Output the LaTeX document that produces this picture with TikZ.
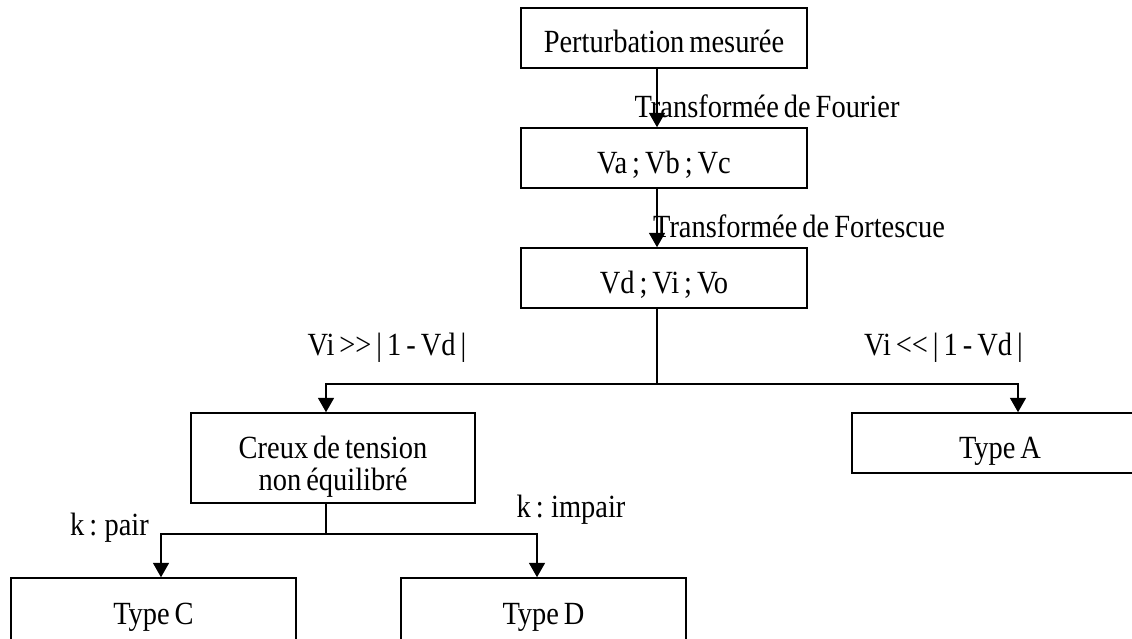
\documentclass[tikz,border=0pt]{standalone}
\usepackage{fontspec}
\setmainfont{Liberation Serif}[FakeStretch=0.88, WordSpace=0.7]
\usepackage{tikz}
\usetikzlibrary{arrows.meta}

\tikzset{
	box/.style = {draw, shape = rectangle, line width = 1.1pt, minimum width = 7.125cm, minimum height = 1.5cm, align = center, text height = 0.9cm, text depth = 0.15cm},
	link/.style = {line width = 1.1pt, -{Triangle[length = 3.6mm, width = 4mm]}}
}

\begin{document}
\begin{tikzpicture}[font = \fontsize{23}{22.5}\selectfont]
	\useasboundingbox (0, 0) rectangle (28.3, 15.95);
	\clip (0, 0) rectangle (28.3, 15.95);

	\node[box, minimum width = 7.15cm] (b0) at (16.6, 15) {Perturbation mesurée};
	\node[box, minimum width = 7.15cm] (b1) at (16.6, 12) {Va ; Vb ; Vc};
	\node[box, minimum width = 7.15cm] (b2) at (16.6, 9) {Vd ; Vi ; Vo};

	\node[box, minimum width = 7.1cm, minimum height = 2.25cm, text height = 1.75cm, text depth = 0.15cm] (b3) at (8.325, 4.5) {Creux de tension\\non équilibré};
	\node[box, minimum width = 7.4cm] (b4) at (25, 4.875) {Type A};

	\node[box, minimum height = 1.55cm] (b5) at (3.8375, 0.725) {Type C};
	\node[box, minimum height = 1.55cm] (b6) at (13.5875, 0.725) {Type D};

	\node[] (l1) at (19.175, 13.3) {Transformée de Fourier};
	\node[] (l2) at (19.975, 10.3) {Transformée de Fortescue};
	\node[] (l3) at (9.675, 7.25) {Vi >\kern0pt> | 1 - Vd |};
	\node[] (l4) at (23.5875, 7.25) {Vi <\kern0pt< | 1 - Vd |};
	\node[] (l5) at (2.7375, 2.75) {k : pair};
	\node[] (l6) at (14.275, 3.2) {k : impair};

	\coordinate (j1) at (16.425, 6.35);
	\coordinate (j2) at (8.15, 2.6);

	\draw[link] ([xshift = -0.175cm]b0.south) -- ([xshift = -0.175cm]b1.north);
	\draw[link] ([xshift = -0.175cm]b1.south) -- ([xshift = -0.175cm]b2.north);

	\draw[line width = 1.1pt] ([xshift = -0.175cm]b2.south) -- (j1);
	\draw[link] (j1) -| ([xshift = -0.175cm]b3.north);
	\draw[link] (j1) -| ([xshift = 0.45cm]b4.north);

	\draw[line width = 1.1pt] ([xshift = -0.175cm]b3.south) -- (j2);
	\draw[link] (j2) -| ([xshift = 0.1875cm]b5.north);
	\draw[link] (j2) -| ([xshift = -0.1625cm]b6.north);

\end{tikzpicture}
\end{document}
